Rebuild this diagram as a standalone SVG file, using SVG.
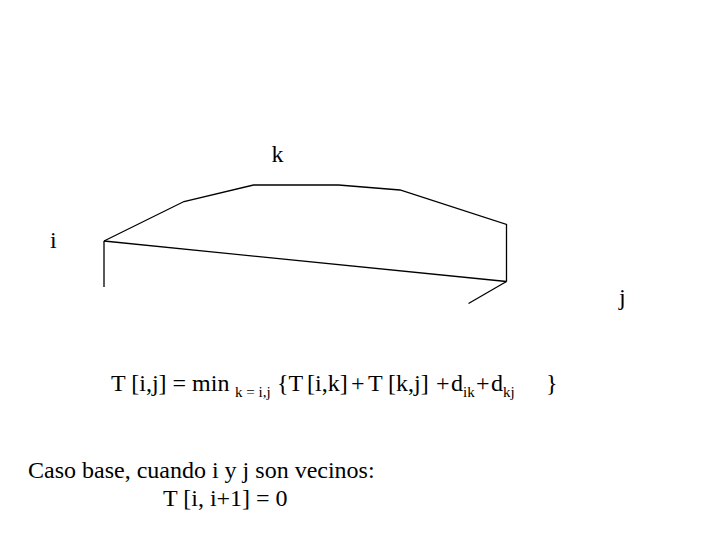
<svg xmlns="http://www.w3.org/2000/svg" width="720" height="540" viewBox="0 0 720 540">
<style>
text{font-family:"Liberation Serif","Times New Roman",serif;fill:#000;font-size:24px}
.sub{font-size:15px}
.ln{fill:none;stroke:#000;stroke-width:1.3}
</style>
<rect width="720" height="540" fill="#fff"/>
<g id="connectors">
<polyline class="ln" points="104,241 184,201.5 253.5,185 338.5,185 400,190 506.5,224.5 506.5,281.5"/>
<line class="ln" x1="104" y1="241" x2="506.5" y2="281.5"/>
<line class="ln" x1="104" y1="241" x2="104" y2="287"/>
<line class="ln" x1="506.5" y1="281.5" x2="468.5" y2="303.5"/>
</g>
<g id="node-k"><text x="271.5" y="162">k</text></g>
<g id="node-i"><text x="50" y="248">i</text></g>
<g id="node-j"><text x="619" y="305">j</text></g>
<g id="formula">
<text y="391"><tspan x="111">T [i,j] = min</tspan><tspan x="235" y="397" class="sub">k = i,j</tspan><tspan x="277" y="391">{T</tspan><tspan x="307">[i,k]</tspan><tspan x="351">+</tspan><tspan x="368">T</tspan><tspan x="388">[k,j]</tspan><tspan x="436">+</tspan><tspan x="451">d</tspan><tspan x="463" y="397" class="sub">ik</tspan><tspan x="476" y="391">+</tspan><tspan x="491">d</tspan><tspan x="503" y="397" class="sub">kj</tspan><tspan x="546" y="391">}</tspan></text>
</g>
<g id="base">
<text x="28" y="478">Caso base, cuando i y j son vecinos:</text>
<text x="163" y="506">T [i, i+1] = 0</text>
</g>
</svg>
